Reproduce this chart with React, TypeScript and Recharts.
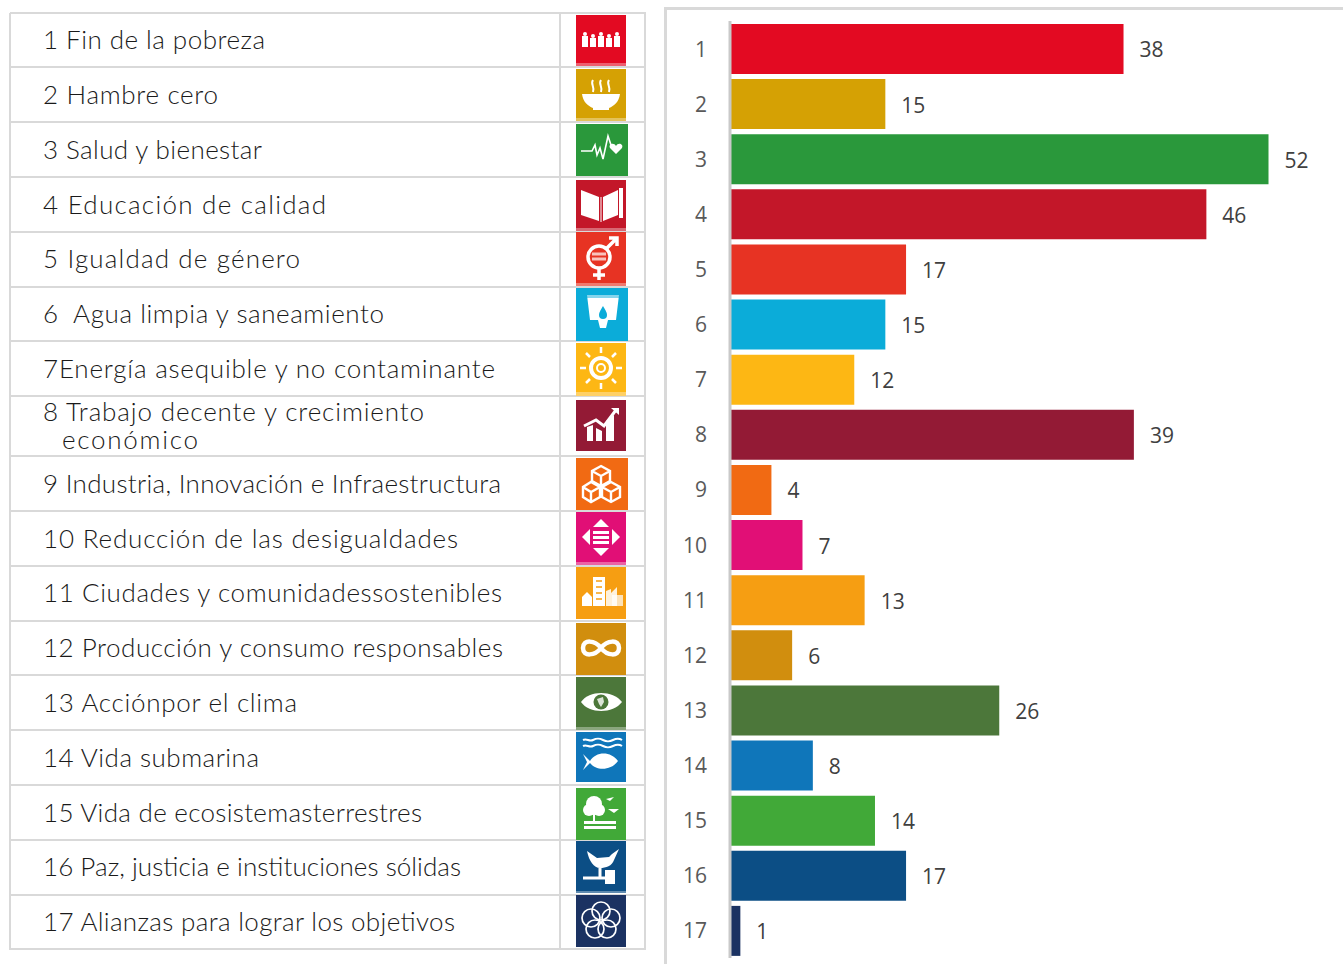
import { BarChart, Bar, XAxis, YAxis, Cell, LabelList } from 'recharts'

const CATEGORIES = ['1', '2', '3', '4', '5', '6', '7', '8', '9', '10', '11', '12', '13', '14', '15', '16', '17']
const VALUES = [38, 15, 52, 46, 17, 15, 12, 39, 4, 7, 13, 6, 26, 8, 14, 17, 1]
const COLORS = [
  '#e30a22', '#d5a104', '#2a983b', '#c31729', '#e73323', '#0bacd9', '#fdb714', '#931a35', '#f16a13',
  '#e10f76', '#f69e12', '#d18e0e', '#4c773a', '#0f76ba', '#41a938', '#0c4e85', '#1b3262',
]
const LABELS = [
  ['1 Fin de la pobreza'],
  ['2 Hambre cero'],
  ['3 Salud y bienestar'],
  ['4 Educación de calidad'],
  ['5 Igualdad de género'],
  ['6  Agua limpia y saneamiento'],
  ['7Energía asequible y no contaminante'],
  ['8 Trabajo decente y crecimiento', 'económico'],
  ['9 Industria, Innovación e Infraestructura'],
  ['10 Reducción de las desigualdades'],
  ['11 Ciudades y comunidadessostenibles'],
  ['12 Producción y consumo responsables'],
  ['13 Acciónpor el clima'],
  ['14 Vida submarina'],
  ['15 Vida de ecosistemasterrestres'],
  ['16 Paz, justicia e instituciones sólidas'],
  ['17 Alianzas para lograr los objetivos'],
]

const data = CATEGORIES.map((c, i) => ({ name: c, value: VALUES[i] }))

// table layout (not chart data)
const ROW_LINES = [13, 67, 122, 177, 232, 287, 341, 396, 456, 511, 566, 621, 675, 730, 785, 840, 895, 949]
const TEXT_Y = [49, 104, 159, 214, 268, 323, 378, 421, 493, 548, 602, 657, 712, 767, 822, 876, 931]
const TEXT_W = [
  [222], [175], [219], [283], [257], [341], [452], [381, 136], [458], [415], [459], [460], [254], [216], [379], [418], [412],
]
const ICON_BOX = [
  [15, 51, 50, 3], [69, 52, 50, 3], [124, 52, 52, 0], [180, 51, 50, 3], [232, 54, 50, 3], [288, 53, 52, 0],
  [343, 53, 50, 4], [400, 51, 50, 0], [458, 52, 52, 0], [512, 53, 50, 3], [567, 52, 50, 0], [623, 52, 50, 0],
  [677, 53, 50, 3], [732, 50, 50, 0], [788, 52, 50, 0], [841, 52, 50, 2], [895, 52, 50, 0],
]

function Glyph({ n }: { n: number }) {
  const w = { fill: '#fff' }
  const s = { fill: 'none', stroke: '#fff' }
  switch (n) {
    case 0:
      return (
        <g {...w}>
          {[9, 17, 25, 33, 41].map((x, i) => (
            <g key={x}>
              <circle cx={x} cy={i % 2 ? 21 : 19} r={2} />
              <rect x={x - 3} y={i % 2 ? 23 : 21} width={6} height={i % 2 ? 9 : 11} />
            </g>
          ))}
        </g>
      )
    case 1:
      return (
        <g>
          <path d="M6 25H44C43 33 38 37 33 39V41H17V39C12 37 7 33 6 25Z" {...w} />
          <path d="M17 11C14 15 19 17 17 23M25 11C22 15 27 17 25 23M33 11C30 15 35 17 33 23" {...s} strokeWidth={2} />
        </g>
      )
    case 2:
      return (
        <g>
          <path d="M5 27H16L19 21L21 31L24 24L27 35L32 12L35 21" {...s} strokeWidth={1.6} />
          <path d="M42 31L36 25C34 21 40 19 42 23C44 19 50 21 48 25Z" {...w} transform="translate(-2 -1)" />
        </g>
      )
    case 3:
      return (
        <g>
          <path d="M5 10L23 17V41L5 35ZM27 17L42 10V35L27 41Z" {...w} />
          <path d="M25 17V42" stroke="#fff" strokeWidth={1} />
          <rect x={43} y={8} width={4} height={30} {...w} />
        </g>
      )
    case 4:
      return (
        <g>
          <circle cx={23} cy={25} r={11} {...s} strokeWidth={3.5} />
          <path d="M16 22H30M16 27H30" {...s} strokeWidth={3} opacity={0.7} />
          <path d="M23 36V48M17 43H29M30 17L40 7M33 6H41V14" {...s} strokeWidth={3.5} />
        </g>
      )
    case 5:
      return (
        <g>
          <path d="M11 7H43L40 32H32L30 40H24L22 32H14Z" {...w} />
          <path d="M27 18C24 23 23 25 23 27A4 4 0 0 0 31 27C31 25 30 23 27 18Z" fill="#0bacd9" />
          <rect x={11} y={7} width={32} height={3} fill="#0bacd9" opacity={0.5} />
        </g>
      )
    case 6:
      return (
        <g>
          <circle cx={25} cy={25} r={10} {...s} strokeWidth={4} />
          <path
            d="M25 4V10M25 40V46M4 25H10M40 25H46M10 10L14 14M36 36L40 40M40 10L36 14M14 36L10 40"
            {...s}
            strokeWidth={2.5}
          />
          <circle cx={25} cy={25} r={4} {...s} strokeWidth={2} />
        </g>
      )
    case 7:
      return (
        <g>
          <path d="M11 41V27L17 25V41ZM20 41V28L26 31V41ZM30 41V21L38 15V41Z" {...w} />
          <path d="M8 26L20 20L28 26L40 10" {...s} strokeWidth={3} />
          <path d="M35 8H43V15Z" {...w} />
        </g>
      )
    case 8:
      return (
        <g {...s} strokeWidth={2.4}>
          <path d="M25 8L34 13V23L25 28L16 23V13ZM16 13L25 18L34 13M25 18V28" />
          <path d="M15 24L24 29V39L15 44L7 39V29ZM7 29L15 34L24 29M15 34V44" />
          <path d="M35 24L44 29V39L35 44L26 39V29ZM26 29L35 34L44 29M35 34V44" />
        </g>
      )
    case 9:
      return (
        <g {...w}>
          <path d="M25 7L33 15H17ZM25 44L17 36H33ZM6 25L14 17V33ZM44 25L36 17V33Z" />
          <rect x={17} y={19} width={16} height={3} />
          <rect x={17} y={24} width={16} height={3} />
          <rect x={17} y={29} width={16} height={3} />
        </g>
      )
    case 10:
      return (
        <g {...w}>
          <path d="M6 39V30L11 25L16 30V39Z" />
          <rect x={17} y={10} width={12} height={29} />
          <path d="M30 39V24L35 22V26L41 20V39Z" opacity={0.85} />
          <rect x={36} y={28} width={11} height={11} opacity={0.7} />
          <path d="M20 14H26M20 20H26M20 26H26M20 32H26" stroke="#f69e12" strokeWidth={1.5} />
        </g>
      )
    case 11:
      return (
        <path
          d="M25 25C19 17 7 16 7 25C7 34 19 33 25 25C31 17 43 16 43 25C43 34 31 33 25 25Z"
          {...s}
          strokeWidth={4.5}
        />
      )
    case 12:
      return (
        <g>
          <path d="M5 25C13 13 37 13 46 25C37 37 13 37 5 25Z" {...w} />
          <circle cx={25} cy={25} r={7.5} fill="#4c773a" />
          <path d="M21 22L27 20L28 25L25 30L23 27Z" {...w} opacity={0.8} />
        </g>
      )
    case 13:
      return (
        <g>
          <path d="M7 8C11 6 13 10 17 8S23 6 27 8S33 10 37 8S43 6 46 8M7 14C11 12 13 16 17 14S23 12 27 14S33 16 37 14S43 12 46 14" {...s} strokeWidth={2} />
          <path d="M7 22L14 29C20 19 35 19 42 29C35 39 20 39 14 31L7 38L11 30Z" {...w} />
        </g>
      )
    case 14:
      return (
        <g {...w}>
          <circle cx={18} cy={16} r={8} />
          <circle cx={13} cy={22} r={6} />
          <circle cx={23} cy={22} r={6} />
          <rect x={17} y={24} width={2} height={9} />
          <rect x={8} y={33} width={32} height={3} />
          <rect x={8} y={38} width={32} height={3} />
          <path d="M30 11L38 9L34 13ZM32 21H43L38 25Z" />
        </g>
      )
    case 15:
      return (
        <g>
          <path d="M11 10L21 17L33 16L36 13L43 8L38 19C36 25 30 27 24 27C18 27 13 20 11 10Z" {...w} />
          <path d="M7 37H30M24 27V36" {...s} strokeWidth={3} />
          <rect x={29} y={29} width={10} height={14} {...w} />
        </g>
      )
    default:
      return (
        <g {...s} strokeWidth={1.7}>
          <circle cx={25} cy={16} r={9} />
          <circle cx={15} cy={23} r={9} />
          <circle cx={35} cy={23} r={9} />
          <circle cx={19} cy={34} r={9} />
          <circle cx={31} cy={34} r={9} />
        </g>
      )
  }
}

function Table() {
  return (
    <svg width={660} height={964} style={{ position: 'absolute', left: 0, top: 0 }}>
      <g stroke="#d9d9d9" strokeWidth={2}>
        {ROW_LINES.map((y) => (
          <line key={y} x1={10} x2={646} y1={y} y2={y} />
        ))}
        <line x1={10} x2={10} y1={13} y2={950} />
        <line x1={560} x2={560} y1={13} y2={950} />
        <line x1={645} x2={645} y1={13} y2={950} />
      </g>
      {LABELS.map((lines, i) =>
        lines.map((t, j) => (
          <text
            key={`${i}-${j}`}
            x={j ? 62 : 43}
            y={TEXT_Y[i] + j * 28}
            fontFamily="Lato"
            fontWeight={300}
            fontSize={26}
            fill="#1a1a1a"
            textLength={TEXT_W[i][j]}
            lengthAdjust="spacing"
            style={{ whiteSpace: 'pre' }}
          >
            {t}
          </text>
        )),
      )}
      {ICON_BOX.map(([top, h, w, strip], i) => (
        <g key={i} transform={`translate(576 ${top})`}>
          <rect width={w} height={h} fill={COLORS[i]} />
          {strip > 0 && <rect y={h - strip} width={w} height={strip} fill="#fff" opacity={0.35} />}
          <Glyph n={i} />
        </g>
      ))}
    </svg>
  )
}

export default function App() {
  return (
    <div style={{ position: 'absolute', left: 0, top: 0, width: 1343, height: 964, overflow: 'hidden', background: '#fff' }}>
      <Table />
      <div style={{ position: 'absolute', left: 664, top: 7, width: 700, height: 970, borderLeft: '3px solid #d9d9d9', borderTop: '3px solid #d9d9d9' }} />
      <div style={{ position: 'absolute', left: 666, top: 9 }}>
        <BarChart
          layout="vertical"
          width={676}
          height={954}
          data={data}
          barSize={50}
          margin={{ top: 12, right: 1, left: 0, bottom: 5 }}
        >
          <XAxis type="number" hide domain={[0, 59]} />
          <YAxis
            type="category"
            dataKey="name"
            width={64}
            interval={0}
            tickLine={false}
            tickMargin={17}
            axisLine={{ stroke: '#c9c9c9', strokeWidth: 3 }}
            tick={{ fontSize: 21, fill: '#595959', fontFamily: 'Open Sans', dy: 0.5 }}
          />
          <Bar dataKey="value" isAnimationActive={false}>
            {data.map((d, i) => (
              <Cell key={d.name} fill={COLORS[i]} />
            ))}
            <LabelList
              dataKey="value"
              position="right"
              offset={16}
              dy={1}
              style={{ fontSize: 21, fill: '#404040', fontFamily: 'Open Sans' }}
            />
          </Bar>
        </BarChart>
      </div>
    </div>
  )
}
